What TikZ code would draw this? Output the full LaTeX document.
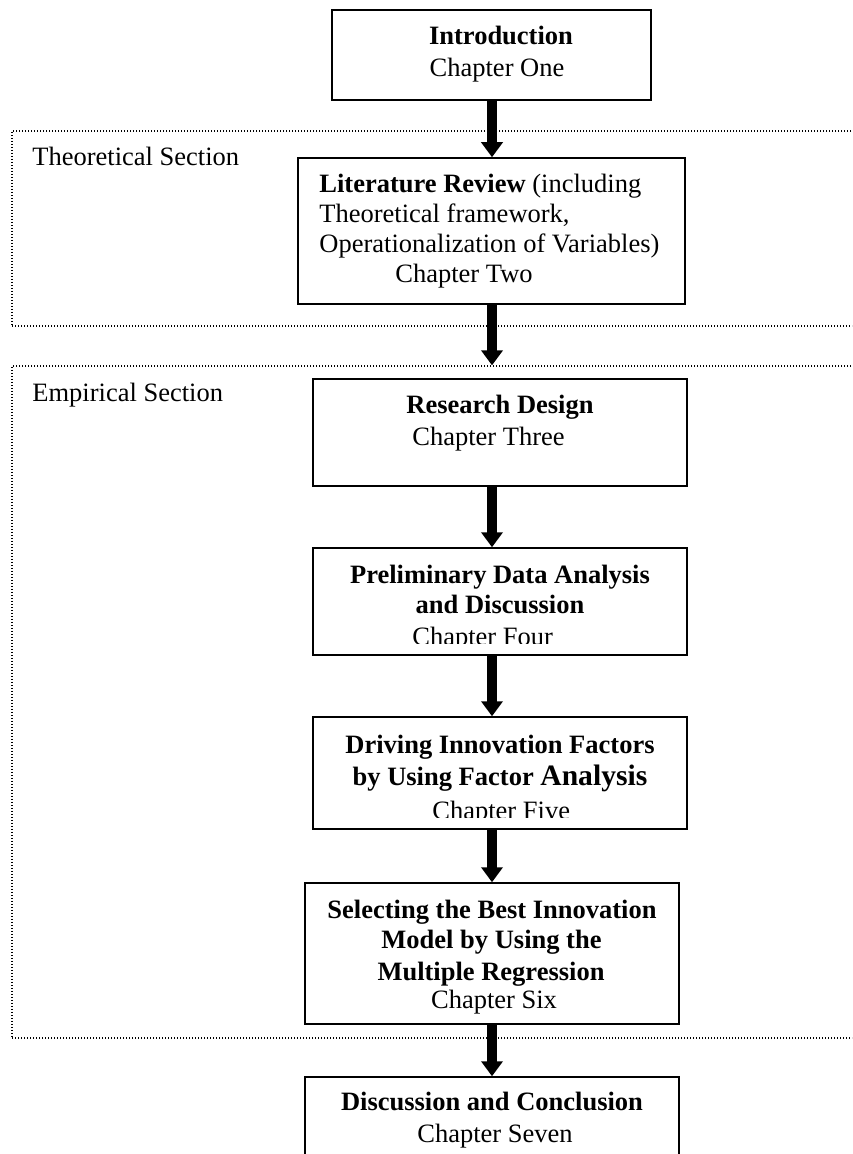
\documentclass[tikz,border=0pt]{standalone}
\usepackage{fontspec}
\setmainfont{Liberation Serif}
\usetikzlibrary{arrows.meta,fit}
\begin{document}
\begin{tikzpicture}[x=0.5pt,y=-0.5pt,
  box/.style={draw, line width=0.75pt, rectangle, inner sep=0pt},
  frame/.style={draw, line width=0.65pt, dash pattern=on 0.7pt off 0.8pt, rectangle, inner sep=0pt},
  txt/.style={inner sep=0pt, anchor=base, font=\fontsize{13.25}{16}\selectfont},
  txtl/.style={txt, anchor=base west},
  flow/.style={line width=5pt, -{Triangle[width=10.5pt,length=7.5pt]}},
]
\clip (0,0) rectangle (852,1154);
\fill[white] (0,0) rectangle (852,1154);
% section frames
\node[frame, fit={(12,131) (880,326)}] (theo) {};
\node[frame, fit={(12,366) (880,1038)}] (emp) {};
\node[txtl] (theolab) at (32,166) {Theoretical Section};
\node[txtl] (emplab) at (32,401) {Empirical Section};
% boxes
\node[box, fit={(332,10) (651,100)}] (intro) {};
\node[box, fit={(298,158) (685,304)}] (lit) {};
\node[box, fit={(313,379) (687,486)}] (res) {};
\node[box, fit={(313,548) (687,655)}] (prel) {};
\node[box, fit={(313,717) (687,829)}] (drv) {};
\node[box, fit={(305,883) (679,1024)}] (sel) {};
\node[box, fit={(305,1077) (679,1190)}] (dis) {};
% texts
\node[txt] (t1a) at (501,45) {\textbf{Introduction}};
\node[txt] (t1b) at (497,77) {Chapter One};
\node[txtl] (t2a) at (319,193) {\textbf{Literature Review} (including};
\node[txtl] (t2b) at (319,223) {Theoretical framework,};
\node[txtl] (t2c) at (319,253) {Operationalization of Variables)};
\node[txtl] (t2d) at (395,283) {Chapter Two};
\node[txt] (t3a) at (500,414) {\textbf{Research Design}};
\node[txtl] (t3b) at (412,445) {Chapter Three};
\node[txt] (t4a) at (500,583) {\textbf{Preliminary Data Analysis}};
\node[txt] (t4b) at (500,613) {\textbf{and Discussion}};
\begin{scope}
\clip (313,600) rectangle (687,643);
\node[txtl] (t4c) at (412,645) {Chapter Four};
\end{scope}
\node[txt] (t5a) at (500,753) {\textbf{Driving Innovation Factors}};
\node[txt] (t5b) at (500,785) {\textbf{by Using Factor {\fontsize{14.8}{16}\selectfont Analysis}}};
\begin{scope}
\clip (313,790) rectangle (687,817);
\node[txtl] (t5c) at (432,819) {Chapter Five};
\end{scope}
\node[txt] (t6a) at (492,918) {\textbf{Selecting the Best Innovation}};
\node[txt] (t6b) at (491.5,948) {\textbf{Model by Using the}};
\node[txt] (t6c) at (491,980) {\textbf{Multiple Regression}};
\node[txt] (t6d) at (494,1008) {Chapter Six};
\node[txt] (t7a) at (492,1110) {\textbf{Discussion and Conclusion}};
\node[txt] (t7b) at (495,1142) {Chapter Seven};
% arrows
\coordinate (ax) at (492,0);
\draw[flow] (intro.south -| ax) -- (lit.north -| ax);
\draw[flow] (lit.south -| ax) -- (emp.north -| ax);
\draw[flow] (res.south -| ax) -- (prel.north -| ax);
\draw[flow] (prel.south -| ax) -- (drv.north -| ax);
\draw[flow] (drv.south -| ax) -- (sel.north -| ax);
\draw[flow] (sel.south -| ax) -- (dis.north -| ax);
\end{tikzpicture}
\end{document}
